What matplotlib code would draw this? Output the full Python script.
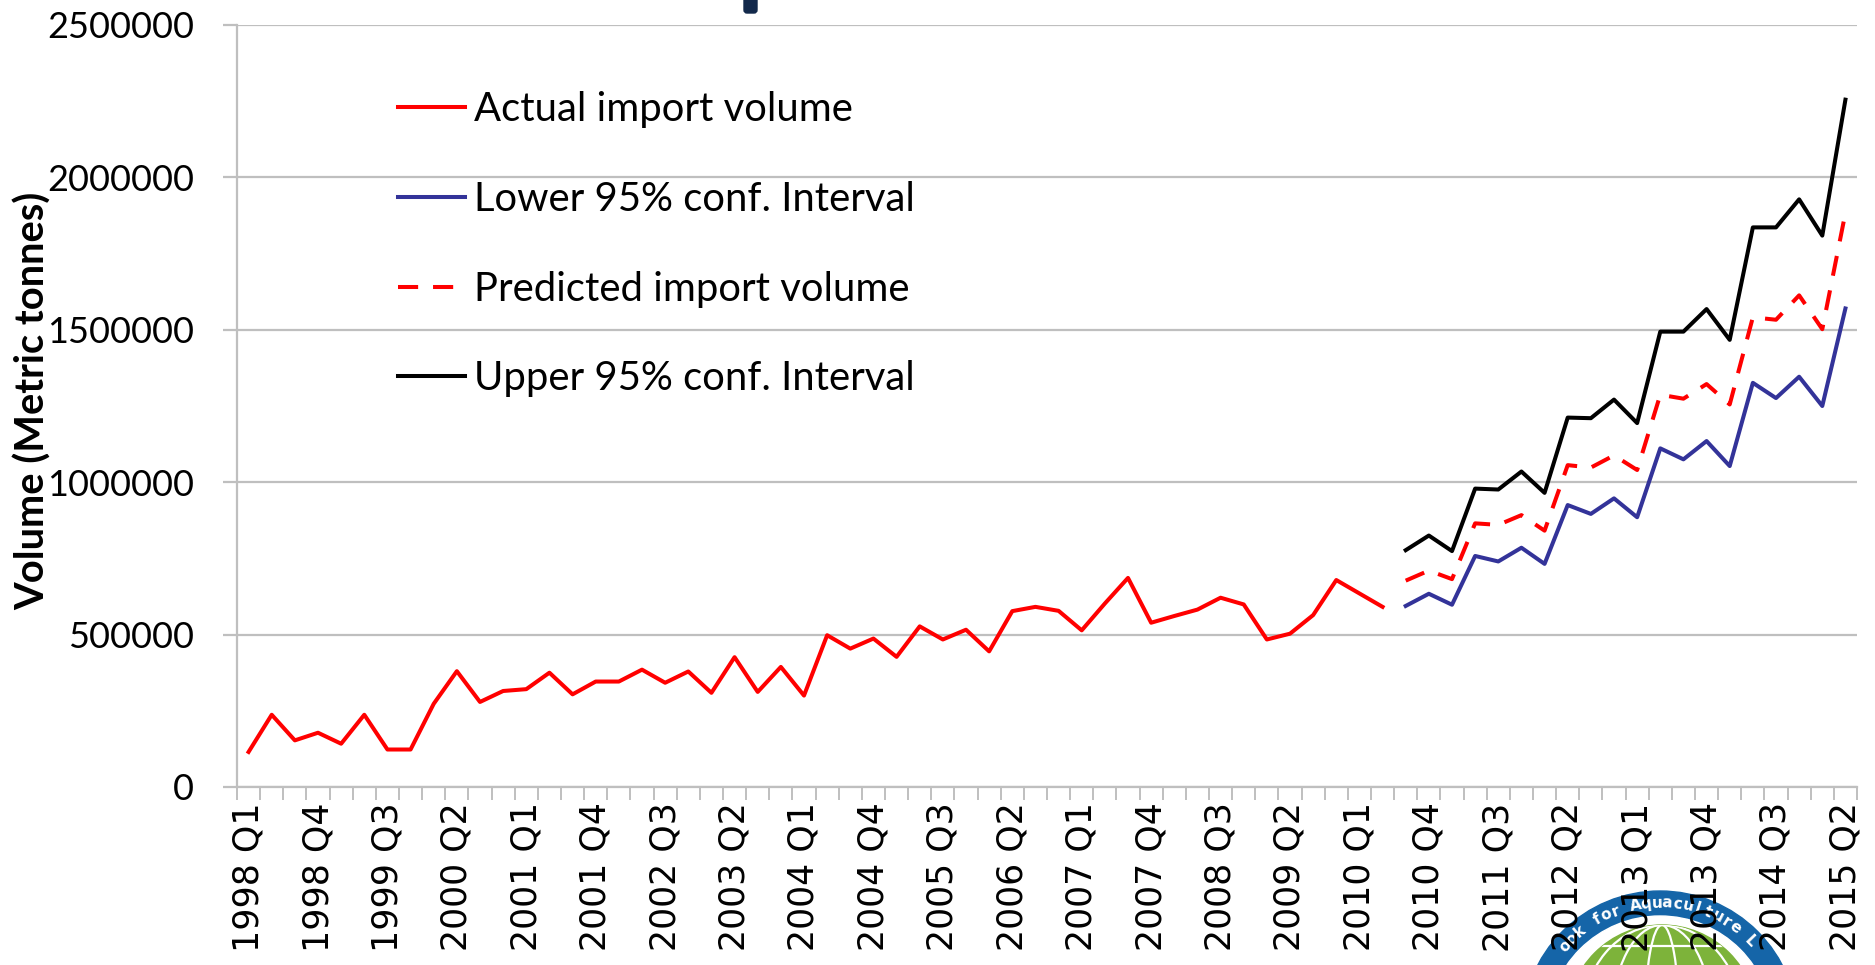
import numpy as np
import matplotlib
matplotlib.use("Agg")
import matplotlib.pyplot as plt
import matplotlib.transforms as mtransforms
from matplotlib.patches import Circle, Ellipse, FancyBboxPatch
from matplotlib.font_manager import FontProperties

W, H = 1875, 965

# quarterly categories 1998 Q1 .. 2015 Q2
quarters = [f"{y} Q{q}" for y in range(1998, 2016) for q in range(1, 5)][:70]

# actual import volume, 1998 Q1 .. 2010 Q2
actual = [115000, 237000, 153000, 178000,
          142000, 237000, 123000, 123000,
          273000, 380000, 279000, 315000,
          321000, 375000, 304000, 346000,
          346000, 385000, 342000, 379000,
          309000, 426000, 312000, 394000,
          300000, 498000, 454000, 487000,
          427000, 527000, 484000, 516000,
          445000, 577000, 591000, 578000,
          514000, 602000, 686000, 539000,
          561000, 582000, 621000, 599000,
          484000, 503000, 564000, 679000,
          635000, 591000]

# forecast, 2010 Q3 .. 2015 Q2
lower = [594000, 634000, 598000, 758000, 740000, 785000, 732000, 925000,
         896000, 947000, 885000, 1111000, 1075000, 1135000, 1053000,
         1326000, 1276000, 1346000, 1250000, 1570000]
predicted = [677000, 710000, 682000, 865000, 860000, 892000, 841000,
             1056000, 1048000, 1088000, 1040000, 1287000, 1274000, 1322000,
             1255000, 1541000, 1533000, 1613000, 1502000, 1884000]
upper = [777000, 825000, 774000, 979000, 976000, 1035000, 965000, 1212000,
         1210000, 1271000, 1194000, 1494000, 1494000, 1568000, 1467000,
         1836000, 1836000, 1928000, 1809000, 2255000]

tick_labels = ["1998 Q1", "1998 Q4", "1999 Q3", "2000 Q2", "2001 Q1",
               "2001 Q4", "2002 Q3", "2003 Q2", "2004 Q1", "2004 Q4",
               "2005 Q3", "2006 Q2", "2007 Q1", "2007 Q4", "2008 Q3",
               "2009 Q2", "2010 Q1", "2010 Q4", "2011 Q3", "2012 Q2",
               "2013 Q1", "2013 Q4", "2014 Q3", "2015 Q2"]
y_ticks = [0, 500000, 1000000, 1500000, 2000000, 2500000]

grid_col = "#BFBFBF"

fig = plt.figure(figsize=(W / 100, H / 100), dpi=100)
ax = fig.add_axes([237 / W, 1 - 787 / H, (1857 - 237) / W, (787 - 25) / H])

x_act = np.arange(len(actual))
x_fc = np.arange(len(actual), len(actual) + len(predicted))

l_act, = ax.plot(x_act, actual, color="#FF0000", lw=2.9)
l_low, = ax.plot(x_fc, lower, color="#333399", lw=2.9)
l_pred, = ax.plot(x_fc, predicted, color="#FF0000", lw=2.9, dashes=(5, 3.7))
l_up, = ax.plot(x_fc, upper, color="#000000", lw=2.9)

ax.set_xlim(-0.5, len(quarters) - 0.5)
ax.set_ylim(0, 2500000)

ax.set_yticks(y_ticks)
ax.set_yticklabels([str(v) for v in y_ticks], fontfamily="Lato", fontsize=26)
ax.yaxis.grid(True, color=grid_col, lw=1.6)
ax.set_axisbelow(True)
ax.tick_params(axis="y", direction="out", length=10, width=1.6, color=grid_col, pad=21)

label_pos = [quarters.index(t) for t in tick_labels]
ax.set_xticks(label_pos)
ax.set_xticklabels(tick_labels, rotation=90, fontfamily="DejaVu Sans", fontsize=25)
ax.set_xticks(np.arange(-0.5, len(quarters)), minor=True)
ax.tick_params(axis="x", which="major", length=0, pad=11)
ax.tick_params(axis="x", which="minor", direction="out", length=9.5, width=1.4, color=grid_col)

for s in ["top", "right"]:
    ax.spines[s].set_visible(False)
for s in ["left", "bottom"]:
    ax.spines[s].set_color(grid_col)
    ax.spines[s].set_linewidth(1.6)

ax.set_ylabel("Volume (Metric tonnes)", fontfamily="Lato", fontweight="bold", fontsize=28.7)
ax.yaxis.set_label_coords((52 - 237) / (1857 - 237), 0.507)

ax.legend([l_act, l_low, l_pred, l_up],
          ["Actual import volume", "Lower 95% conf. Interval",
           "Predicted import volume", "Upper 95% conf. Interval"],
          loc="upper left", bbox_to_anchor=(398 / W, 1 - 91 / H),
          bbox_transform=fig.transFigure, frameon=False,
          prop=FontProperties(family="Lato", size=28.8),
          handlelength=1.68, handletextpad=0.22, labelspacing=1.32,
          borderpad=0, borderaxespad=0)

# pixel transform for decorations (image coords, y measured from top)
px = mtransforms.Affine2D().scale(1 / W, -1 / H).translate(0, 1) + fig.transFigure

# cropped title fragment at the top
fig.add_artist(FancyBboxPatch((744, -6), 13, 19, boxstyle="round,pad=0,rounding_size=3",
                              transform=px, color="#13294B", zorder=-1))

# logo in the bottom right corner
cx, cy = 1660, 1029
fig.add_artist(Circle((cx, cy), 138, transform=px, color="#1565A8", zorder=-2))
fig.add_artist(Circle((cx, cy), 113, transform=px, color="white", zorder=-2))
gx, gy = 1662, 1020
globe = Circle((gx, gy), 95, transform=px, color="#7DB33A", zorder=-2)
fig.add_artist(globe)
for w in [34, 100, 160]:
    e = Ellipse((gx, gy), w, 190, transform=px, fill=False,
                ec="white", lw=1.6, zorder=-2)
    e.set_clip_path(globe)
    fig.add_artist(e)
for yy in [946, 970]:
    ln = plt.Line2D([gx - 100, gx + 100], [yy, yy], transform=px, color="white",
                    lw=1.6, zorder=-2)
    ln.set_clip_path(globe)
    fig.add_artist(ln)

ring_text = "Outlook for Aquaculture Leaders"
for i, ch in enumerate(ring_text):
    ang = np.radians(158 - i * 4.75)
    tx = cx + 126 * np.cos(ang)
    ty = cy - 126 * np.sin(ang)
    if ty > 948:
        continue
    fig.text(tx / W, 1 - ty / H, ch, rotation=np.degrees(ang) - 90,
             ha="center", va="center", color="white", fontsize=11,
             fontweight="bold", family="DejaVu Sans", zorder=-1,
             rotation_mode="anchor")

fig.savefig("out.png", dpi=100)
